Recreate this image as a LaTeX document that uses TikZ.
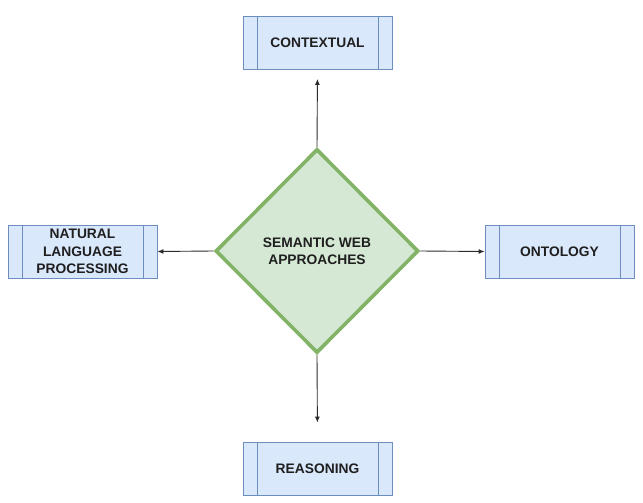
\documentclass[tikz,border=0pt]{standalone}
\usepackage{fontspec}
\setmainfont{Liberation Sans}
\usetikzlibrary{arrows.meta,shapes.geometric}

\definecolor{boxfill}{HTML}{DAE8FC}
\definecolor{boxline}{HTML}{6C8EBF}
\definecolor{dmdfill}{HTML}{D5E8D4}
\definecolor{dmdline}{HTML}{82B366}
\definecolor{arrline}{HTML}{2B2B2B}

\tikzset{
  lbl/.style={font=\fontsize{13.8}{17.2}\selectfont\bfseries,text=black!88,align=center},
  procbox/.style={lbl,rectangle,draw=boxline,fill=boxfill,line width=0.9pt,
    minimum width=149pt,minimum height=53pt,inner sep=0pt,
    path picture={
      \draw[boxline,line width=0.9pt]
        ([xshift=14pt]path picture bounding box.north west) -- ([xshift=14pt]path picture bounding box.south west)
        ([xshift=-14pt]path picture bounding box.north east) -- ([xshift=-14pt]path picture bounding box.south east);
    }},
  dmd/.style={lbl,diamond,draw=dmdline,fill=dmdfill,line width=3.6pt,
    minimum width=203pt,minimum height=204pt,inner sep=0pt},
  arr/.style={arrline,line width=0.9pt,-{Latex[length=6pt,width=5pt]}}
}

\begin{document}
\begin{tikzpicture}[x=1pt,y=-1pt]
    \useasboundingbox (0,0) rectangle (643,503);

    %%%%%%%%%%%%%%%%%%%%%%%%%%%%%%%%%%%%%%%%%%%%%%%%%%%%%%

    % semantic web approaches
    \node[dmd] (sw) at (317,251) {SEMANTIC WEB\\APPROACHES};

    %%%%%%%%%%%%%%%%%%%%%%%%%%%%%%%%%%%%%%%%%%%%%%%%%%%%%%

    % contextual
    \node[procbox] (ctx) at (317.5,43) {CONTEXTUAL};
    \draw[arr,shorten >=9pt] (sw.north) to (ctx.south);

    % natural language processing
    \node[procbox] (nlp) at (82.5,251.5) {NATURAL\\LANGUAGE\\PROCESSING};
    \draw[arr] (sw.west) to (nlp.east);

    % ontology
    \node[procbox] (ont) at (559.5,251.5) {ONTOLOGY};
    \draw[arr] (sw.east) to (ont.west);

    % reasoning
    \node[procbox] (rsn) at (317.5,468.5) {REASONING};
    \draw[arr,shorten >=19pt] (sw.south) to (rsn.north);

\end{tikzpicture}
\end{document}
